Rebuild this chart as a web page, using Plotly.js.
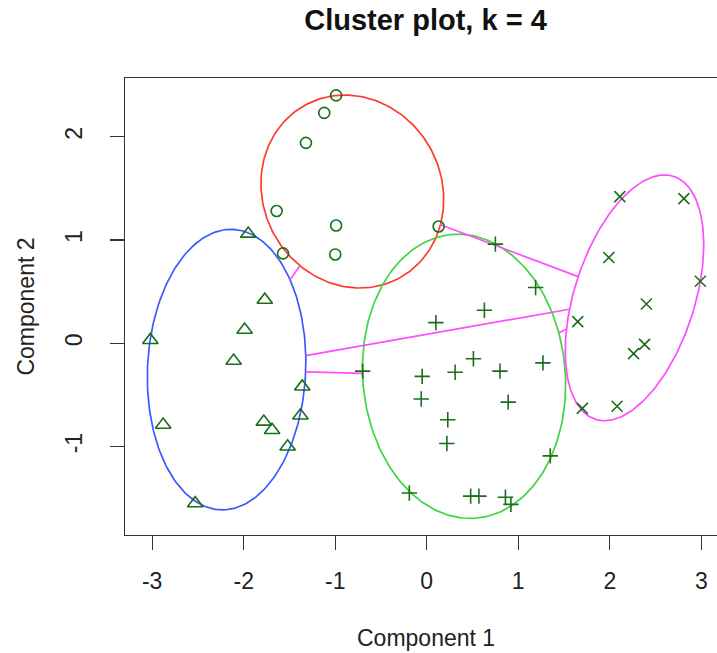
<!DOCTYPE html>
<html><head><meta charset="utf-8">
<script src="https://cdn.plot.ly/plotly-3.0.1.min.js"></script>
<style>html,body{margin:0;padding:0;overflow:hidden;background:#fff}#plot{width:760px;height:653px}</style>
</head><body><div id="plot"></div>
<script>
// Cluster 1 (circles, red ellipse)
const c1x = [-0.99, -1.12, -1.32, -1.64, -0.99, -1.00, -1.57, 0.13];
const c1y = [2.40, 2.23, 1.94, 1.28, 1.14, 0.86, 0.87, 1.13];
// Cluster 2 (triangles, blue ellipse)
const c2x = [-3.02, -1.95, -1.77, -1.99, -2.11, -1.36, -1.38, -1.78, -1.69, -1.52, -2.88, -2.53];
const c2y = [0.03, 1.06, 0.42, 0.13, -0.17, -0.42, -0.70, -0.76, -0.84, -1.00, -0.79, -1.55];
// Cluster 3 (pluses, green ellipse)
const c3x = [0.75, 1.19, 0.63, 0.10, -0.70, 0.51, -0.05, 0.31, 0.80, 1.27, -0.06, 0.89, 0.23, 0.22, 1.35, -0.19, 0.48, 0.57, 0.86, 0.92];
const c3y = [0.96, 0.54, 0.32, 0.20, -0.27, -0.15, -0.32, -0.28, -0.27, -0.19, -0.54, -0.57, -0.74, -0.97, -1.09, -1.45, -1.48, -1.48, -1.49, -1.56];
// Cluster 4 (x marks, magenta ellipse)
const c4x = [2.11, 2.81, 1.99, 2.99, 2.40, 1.65, 2.38, 2.26, 1.70, 2.08];
const c4y = [1.42, 1.40, 0.83, 0.60, 0.38, 0.21, -0.01, -0.10, -0.63, -0.61];

// Cluster ellipses: centre, semi-axes, rotation (deg)
const ellCx = [-0.813, -2.187, 0.408, 2.27];
const ellCy = [1.469, -0.255, -0.320, 0.44];
const ellA = [1.017, 1.359, 1.380, 1.2525];
const ellB = [0.914, 0.864, 1.105, 0.648];
const ellAng = [-25.4, 86.7, 97.6, 68.6];
const ellColors = ['#ff3b2e', '#3a5aff', '#3fd63f', '#ff4cff'];

const xTicks = [-3, -2, -1, 0, 1, 2, 3];
const yTicks = [-1, 0, 1, 2];

const ptColor = '#1a6e1a';
const symbols = ['circle-open', 'triangle-up-open', 'cross-thin-open', 'x-thin-open'];
const sizes = [11, 13.5, 11, 11];
const clusters = [[c1x, c1y], [c2x, c2y], [c3x, c3y], [c4x, c4y]];

const traces = [];
function ellPath(i) {
  const th = ellAng[i] * Math.PI / 180, ct = Math.cos(th), st = Math.sin(th);
  const xs = [], ys = [];
  for (let k = 0; k <= 240; k++) {
    const t = 2 * Math.PI * k / 240;
    const u = ellA[i] * Math.cos(t), v = ellB[i] * Math.sin(t);
    xs.push(ellCx[i] + u * ct - v * st);
    ys.push(ellCy[i] + u * st + v * ct);
  }
  return [xs, ys];
}
for (let i = 0; i < 4; i++) {
  const [xs, ys] = ellPath(i);
  traces.push({x: xs, y: ys, mode: 'lines', line: {color: ellColors[i], width: 1.7}, hoverinfo: 'skip', showlegend: false});
}
// distance segments between ellipse borders along centre lines
function border(i, dx, dy) {
  const th = ellAng[i] * Math.PI / 180;
  const e1 = [Math.cos(th), Math.sin(th)], e2 = [-Math.sin(th), Math.cos(th)];
  const u = (dx * e1[0] + dy * e1[1]) / ellA[i], v = (dx * e2[0] + dy * e2[1]) / ellB[i];
  return 1 / Math.sqrt(u * u + v * v);
}
for (let i = 0; i < 4; i++) {
  for (let j = i + 1; j < 4; j++) {
    const dx = ellCx[j] - ellCx[i], dy = ellCy[j] - ellCy[i];
    const L = Math.hypot(dx, dy), ux = dx / L, uy = dy / L;
    const ti = border(i, ux, uy), tj = border(j, -ux, -uy);
    if (ti + tj < L) {
      traces.push({x: [ellCx[i] + ti * ux, ellCx[j] - tj * ux], y: [ellCy[i] + ti * uy, ellCy[j] - tj * uy],
        mode: 'lines', line: {color: '#ff4cff', width: 1.7}, hoverinfo: 'skip', showlegend: false});
    }
  }
}
clusters.forEach((c, i) => {
  traces.push({x: c[0], y: c[1], mode: 'markers', showlegend: false,
    marker: {symbol: symbols[i], size: sizes[i], color: ptColor, line: {color: ptColor, width: 1.6}}});
});

const fontFam = 'Liberation Sans, Arial, Helvetica, sans-serif';
const W = 760, H = 653;
const axCommon = {showgrid: false, zeroline: false, showline: true, mirror: true, linecolor: '#333', linewidth: 1.3,
  ticks: 'outside', ticklen: 14, tickwidth: 1.2, tickcolor: '#333', tickfont: {family: fontFam, size: 23, color: '#222'},
  fixedrange: true};
const layout = {
  width: W, height: H,
  margin: {l: 125, r: 33.5, t: 78, b: 118},
  paper_bgcolor: '#fff', plot_bgcolor: '#fff',
  title: {text: 'Cluster plot, k = 4', x: 0.5, xref: 'paper', xanchor: 'center', y: 1 - 20 / H, yanchor: 'middle',
    font: {family: fontFam, size: 29, color: '#111', weight: 'bold'}},
  xaxis: Object.assign({}, axCommon, {range: [-3.297, 3.27], tickvals: xTicks, ticktext: xTicks.map(String), ticklabelstandoff: 11}),
  yaxis: Object.assign({}, axCommon, {range: [-1.856, 2.568], tickvals: yTicks, ticktext: yTicks.map(String), tickangle: -90, ticklabelstandoff: 19}),
  annotations: [
    {text: 'Component 1', xref: 'paper', yref: 'paper', x: 0.5, y: (535 - 638) / 456.7, xanchor: 'center', yanchor: 'middle',
      showarrow: false, font: {family: fontFam, size: 23, color: '#222'}},
    {text: 'Component 2', xref: 'paper', yref: 'paper', x: (25 - 125) / 601.5, y: 0.5, xanchor: 'center', yanchor: 'middle',
      textangle: -90, showarrow: false, font: {family: fontFam, size: 23, color: '#222'}}
  ]
};
Plotly.newPlot('plot', traces, layout, {displayModeBar: false, staticPlot: true});
</script>
</body></html>
